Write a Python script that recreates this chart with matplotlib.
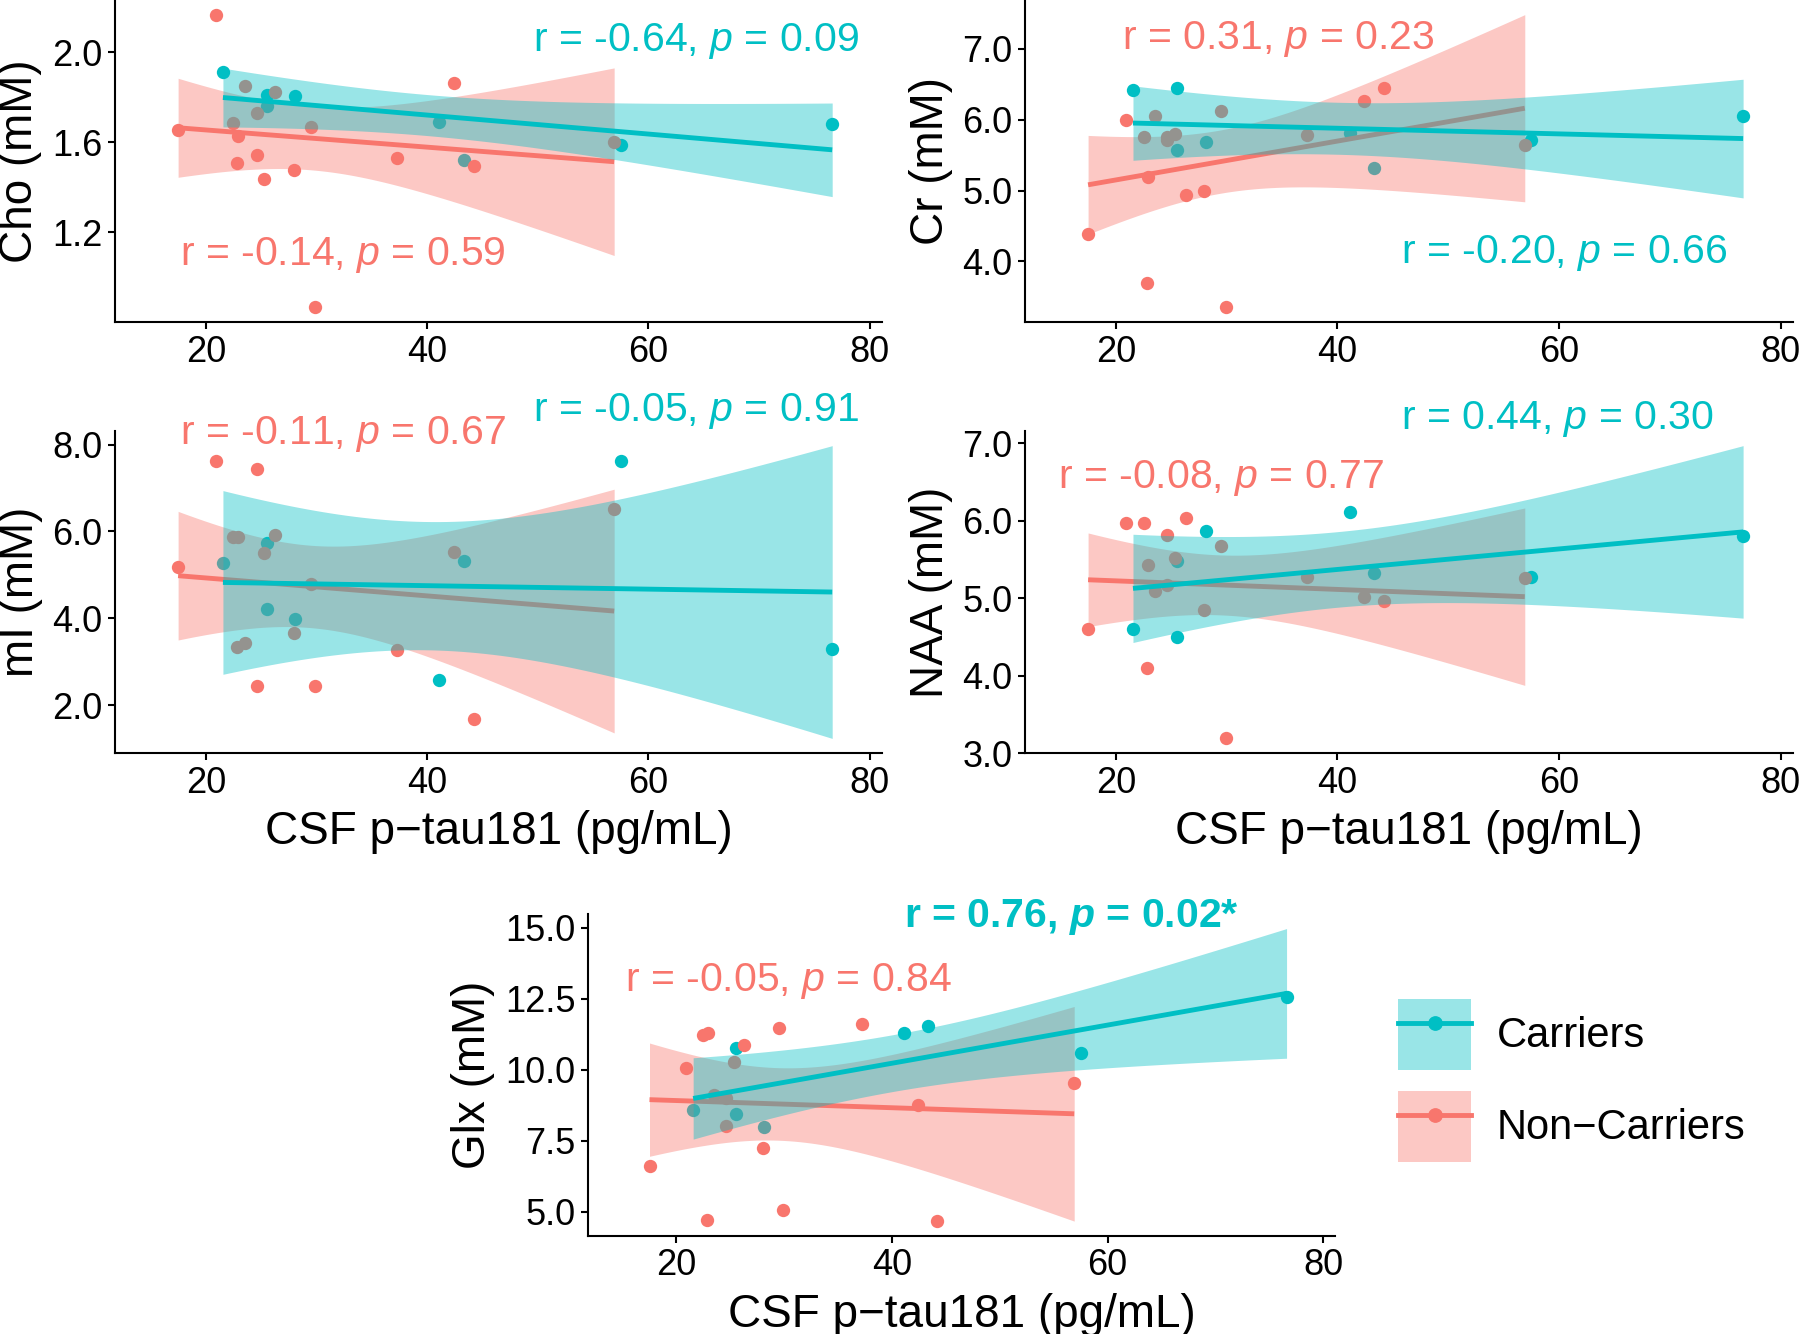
import numpy as np
import matplotlib.pyplot as plt
from matplotlib.lines import Line2D
from matplotlib.patches import Patch

plt.rcParams['font.family'] = ['Liberation Sans', 'DejaVu Sans']
plt.rcParams['mathtext.fontset'] = 'custom'
plt.rcParams['mathtext.rm'] = 'Liberation Sans'
plt.rcParams['mathtext.it'] = 'Liberation Sans:italic'
plt.rcParams['mathtext.bf'] = 'Liberation Sans:bold'
plt.rcParams['mathtext.bfit'] = 'Liberation Sans:bold:italic'

TEAL = "#00BFC4"
RED = "#F8766D"

# CSF p-tau181 per subject (pg/mL)
carrier_ptau = [21.55, 25.5, 25.5, 28.1, 41.1, 43.3, 57.5, 76.6]
noncarrier_ptau = [17.5, 20.9, 22.5, 22.85, 22.95, 23.5, 24.6, 24.6, 25.3,
                   26.3, 28.0, 29.5, 29.9, 37.25, 42.4, 44.2, 56.9]

# metabolite concentrations (mM), same subject order as above
cho_c = [1.910, 1.811, 1.762, 1.803, 1.688, 1.522, 1.589, 1.682]
cho_nc = [1.652, 2.166, 1.686, 1.506, 1.626, 1.851, 1.543, 1.729, 1.438,
          1.824, 1.478, 1.667, 0.867, 1.530, 1.861, 1.493, 1.600]
cr_c = [6.42, 6.455, 5.58, 5.69, 5.81, 5.32, 5.72, 6.05]
cr_nc = [4.39, 6.00, 5.76, 3.69, 5.19, 6.06, 5.76, 5.72, 5.80,
         4.94, 5.00, 6.12, 3.35, 5.79, 6.26, 6.45, 5.64]
mi_c = [5.27, 5.73, 4.21, 3.99, 2.57, 5.33, 7.62, 3.30]
mi_nc = [5.19, 7.62, 5.87, 3.35, 5.88, 3.43, 7.45, 2.43, 5.51,
         5.92, 3.66, 4.79, 2.44, 3.26, 5.52, 1.68, 6.52]
naa_c = [4.60, 5.48, 4.50, 5.87, 6.11, 5.32, 5.27, 5.80]
naa_nc = [4.60, 5.97, 5.97, 4.10, 5.43, 5.09, 5.81, 5.17, 5.52,
          6.03, 4.85, 5.67, 3.19, 5.27, 5.02, 4.96, 5.26]
glx_c = [8.59, 10.76, 8.44, 7.98, 11.29, 11.53, 10.59, 12.55]
glx_nc = [6.60, 10.07, 11.22, 4.69, 11.29, 9.11, 9.00, 8.02, 10.27,
          10.86, 7.24, 11.47, 5.06, 11.61, 8.76, 4.66, 9.53]

ylabels = ["Cho (mM)", "Cr (mM)", "mI (mM)", "NAA (mM)", "Glx (mM)"]
stats_c = ["r = -0.64, $\\mathit{p}$ = 0.09", "r = -0.20, $\\mathit{p}$ = 0.66",
           "r = -0.05, $\\mathit{p}$ = 0.91", "r = 0.44, $\\mathit{p}$ = 0.30",
           "r = 0.76, $\\mathbfit{p}$ = 0.02*"]
stats_nc = ["r = -0.14, $\\mathit{p}$ = 0.59", "r = 0.31, $\\mathit{p}$ = 0.23",
            "r = -0.11, $\\mathit{p}$ = 0.67", "r = -0.08, $\\mathit{p}$ = 0.77",
            "r = -0.05, $\\mathit{p}$ = 0.84"]
yticks = [[1.2, 1.6, 2.0], [4, 5, 6, 7], [2, 4, 6, 8], [3, 4, 5, 6, 7], [5, 7.5, 10, 12.5, 15]]

# label baselines (data coords, left edge)
pos_c = [(49.6, 2.003), (45.7, 3.975), (49.6, 8.546), (45.7, 7.183), (41.1, 15.03)]
pos_nc = [(17.7, 1.056), (20.6, 6.995), (17.7, 8.006), (14.8, 6.423), (15.2, 12.77)]

# axes rectangles in figure fraction
rects = [[0.0639, 0.7586, 0.4261, 0.2414],
         [0.5694, 0.7586, 0.4267, 0.2414],
         [0.0639, 0.4355, 0.4261, 0.2414],
         [0.5694, 0.4355, 0.4267, 0.2414],
         [0.3267, 0.0735, 0.4150, 0.2414]]


def lm_band(x, y, tcrit):
    x = np.asarray(x)
    y = np.asarray(y)
    n = len(x)
    b, a = np.polyfit(x, y, 1)
    xs = np.linspace(x.min(), x.max(), 80)
    fit = a + b * xs
    resid = y - (a + b * x)
    s = np.sqrt(np.sum(resid ** 2) / (n - 2))
    se = s * np.sqrt(1 / n + (xs - x.mean()) ** 2 / np.sum((x - x.mean()) ** 2))
    return xs, fit, fit - tcrit * se, fit + tcrit * se


fig = plt.figure(figsize=(18, 13.34), dpi=100)

data_c = [cho_c, cr_c, mi_c, naa_c, glx_c]
data_nc = [cho_nc, cr_nc, mi_nc, naa_nc, glx_nc]

for i in range(5):
    ax = fig.add_axes(rects[i])
    ax.scatter(carrier_ptau, data_c[i], s=92, color=TEAL, linewidths=0, zorder=2)
    ax.scatter(noncarrier_ptau, data_nc[i], s=92, color=RED, linewidths=0, zorder=2)

    xs_n, f_n, lo_n, hi_n = lm_band(noncarrier_ptau, data_nc[i], 2.1314)
    xs_c, f_c, lo_c, hi_c = lm_band(carrier_ptau, data_c[i], 2.4469)
    ax.fill_between(xs_n, lo_n, hi_n, color=RED, alpha=0.4, linewidth=0, zorder=3)
    ax.plot(xs_n, f_n, color=RED, lw=3.5, zorder=4, solid_capstyle='butt')
    ax.fill_between(xs_c, lo_c, hi_c, color=TEAL, alpha=0.4, linewidth=0, zorder=5)
    ax.plot(xs_c, f_c, color=TEAL, lw=3.5, zorder=6, solid_capstyle='butt')

    allv = np.concatenate([data_c[i], data_nc[i], lo_n, hi_n, lo_c, hi_c])
    lo, hi = allv.min(), allv.max()
    pad = (hi - lo) * 0.05
    ax.set_ylim(lo - pad, hi + pad)
    ax.set_xlim(11.8, 81.1)
    ax.set_xticks([20, 40, 60, 80])
    ax.set_yticks(yticks[i])
    ax.set_yticklabels(["%.1f" % v for v in yticks[i]])

    for side in ["top", "right"]:
        ax.spines[side].set_visible(False)
    for side in ["left", "bottom"]:
        ax.spines[side].set_linewidth(1.5)
    ax.tick_params(labelsize=26, length=5, width=1.5, pad=4)
    ax.set_ylabel(ylabels[i], fontsize=33, labelpad=7)
    if i >= 2:
        ax.set_xlabel("CSF p\u2212tau181 (pg/mL)", fontsize=33, labelpad=7)

    weight = "bold" if i == 4 else "normal"
    ax.text(pos_c[i][0], pos_c[i][1], stats_c[i], color=TEAL, fontsize=29.5,
            ha="left", va="baseline", fontweight=weight, clip_on=False)
    ax.text(pos_nc[i][0], pos_nc[i][1], stats_nc[i], color=RED, fontsize=29.5,
            ha="left", va="baseline", clip_on=False)

handles = [(Patch(facecolor=TEAL, alpha=0.4, edgecolor="none"),
            Line2D([], [], color=TEAL, lw=3.5, marker="o", markersize=9.6)),
           (Patch(facecolor=RED, alpha=0.4, edgecolor="none"),
            Line2D([], [], color=RED, lw=3.5, marker="o", markersize=9.6))]
fig.legend(handles, ["Carriers", "Non\u2212Carriers"], loc="upper left",
           bbox_to_anchor=(0.7767, 0.2511), frameon=False, fontsize=30,
           handlelength=1.75, handleheight=2.24, handletextpad=0.62,
           labelspacing=0.5, borderpad=0, borderaxespad=0)

fig.savefig("out.png", dpi=100)
